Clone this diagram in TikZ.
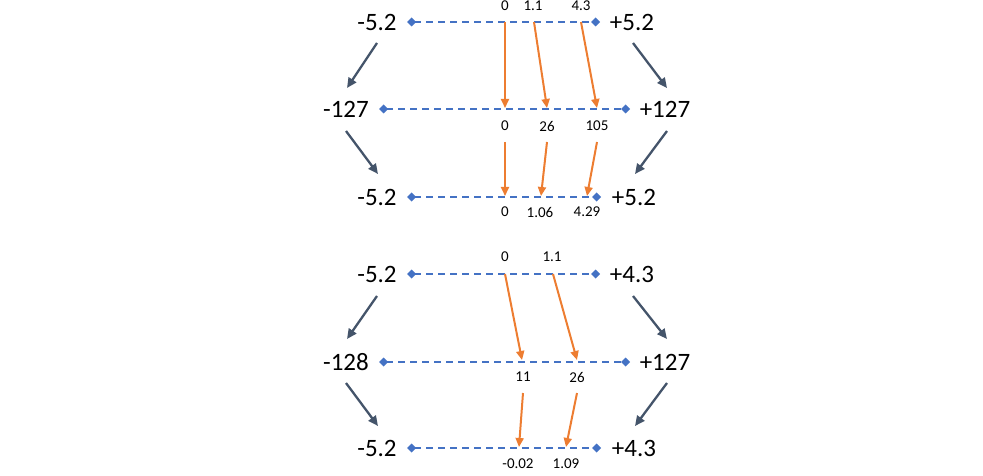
\documentclass[tikz,border=0pt]{standalone}
\usepackage{fontspec}
\setmainfont{Carlito}
\usetikzlibrary{arrows.meta}
\definecolor{axisblue}{HTML}{4472C4}
\definecolor{maporange}{HTML}{ED7D31}
\definecolor{slategray}{HTML}{44546A}
\tikzset{
  big/.style={inner sep=0pt, font=\fontsize{25}{25}\selectfont},
  small/.style={inner sep=0pt, font=\fontsize{15}{15}\selectfont},
  axisline/.style={axisblue, line width=2.2pt, dash pattern=on 7pt off 5pt, {Diamond[length=9pt,width=9pt]}-{Diamond[length=9pt,width=9pt]}},
  maparrow/.style={maporange, line width=2pt, -{Triangle[length=9pt,width=8pt]}},
  scalearrow/.style={slategray, line width=2.3pt, -{Triangle[length=10pt,width=9pt]}}
}
\begin{document}
\begin{tikzpicture}[x=1pt,y=-1pt]
\useasboundingbox (0,0) rectangle (983,476);
% ---------- top group ----------
\node[big] (t1l) at (377,22) {-5.2};
\node[big] (t1r) at (632,22) {+5.2};
\node[big] (t2l) at (346,109) {-127};
\node[big] (t2r) at (665,109) {+127};
\node[big] (t3l) at (377,197) {-5.2};
\node[big] (t3r) at (634,197) {+5.2};
\coordinate (a1l) at (407,22);  \coordinate (a1r) at (600,22);
\coordinate (a2l) at (379,109); \coordinate (a2r) at (630,109);
\coordinate (a3l) at (407,197); \coordinate (a3r) at (601,197);
\draw[axisline] (a1l) -- (a1r);
\draw[axisline] (a2l) -- (a2r);
\draw[axisline] (a3l) -- (a3r);
\node[small] (u1) at (505,6) {0};
\node[small] (u2) at (533,6) {1.1};
\node[small] (u3) at (581,6) {4.3};
\node[small] (v1) at (505,126) {0};
\node[small] (v2) at (547,126) {26};
\node[small] (v3) at (597,126) {105};
\node[small] (w1) at (505,212) {0};
\node[small] (w2) at (540,212) {1.06};
\node[small] (w3) at (587,212) {4.29};
\coordinate (p1s) at (505,22);  \coordinate (p1e) at (505,108);
\coordinate (p2s) at (534,22);  \coordinate (p2e) at (547,108);
\coordinate (p3s) at (581,22);  \coordinate (p3e) at (597,108);
\coordinate (q1s) at (505,142); \coordinate (q1e) at (505,196);
\coordinate (q2s) at (547,142); \coordinate (q2e) at (541,196);
\coordinate (q3s) at (597,142); \coordinate (q3e) at (587,196);
\draw[maparrow] (p1s) -- (p1e);
\draw[maparrow] (p2s) -- (p2e);
\draw[maparrow] (p3s) -- (p3e);
\draw[maparrow] (q1s) -- (q1e);
\draw[maparrow] (q2s) -- (q2e);
\draw[maparrow] (q3s) -- (q3e);
\coordinate (g1s) at (377,43);  \coordinate (g1e) at (347,88);
\coordinate (g2s) at (633,43);  \coordinate (g2e) at (667,88);
\coordinate (g3s) at (346,131); \coordinate (g3e) at (378,174);
\coordinate (g4s) at (667,131); \coordinate (g4e) at (635,174);
\draw[scalearrow] (g1s) -- (g1e);
\draw[scalearrow] (g2s) -- (g2e);
\draw[scalearrow] (g3s) -- (g3e);
\draw[scalearrow] (g4s) -- (g4e);
% ---------- bottom group ----------
\node[big] (b1l) at (377,274) {-5.2};
\node[big] (b1r) at (632,274) {+4.3};
\node[big] (b2l) at (346,362) {-128};
\node[big] (b2r) at (665,362) {+127};
\node[big] (b3l) at (377,448) {-5.2};
\node[big] (b3r) at (634,448) {+4.3};
\coordinate (c1l) at (407,274); \coordinate (c1r) at (600,274);
\coordinate (c2l) at (379,362); \coordinate (c2r) at (630,362);
\coordinate (c3l) at (407,448); \coordinate (c3r) at (601,448);
\draw[axisline] (c1l) -- (c1r);
\draw[axisline] (c2l) -- (c2r);
\draw[axisline] (c3l) -- (c3r);
\node[small] (x1) at (505,257) {0};
\node[small] (x2) at (552,257) {1.1};
\node[small] (y1) at (523,377) {11};
\node[small] (y2) at (577,377) {26};
\node[small] (z1) at (518,464) {-0.02};
\node[small] (z2) at (566,464) {1.09};
\coordinate (r1s) at (505,274); \coordinate (r1e) at (522,360);
\coordinate (r2s) at (553,274); \coordinate (r2e) at (577,360);
\coordinate (s1s) at (523,393); \coordinate (s1e) at (519,447);
\coordinate (s2s) at (577,393); \coordinate (s2e) at (566,447);
\draw[maparrow] (r1s) -- (r1e);
\draw[maparrow] (r2s) -- (r2e);
\draw[maparrow] (s1s) -- (s1e);
\draw[maparrow] (s2s) -- (s2e);
\coordinate (h1s) at (377,296); \coordinate (h1e) at (347,339);
\coordinate (h2s) at (633,296); \coordinate (h2e) at (667,339);
\coordinate (h3s) at (346,383); \coordinate (h3e) at (378,426);
\coordinate (h4s) at (667,383); \coordinate (h4e) at (635,426);
\draw[scalearrow] (h1s) -- (h1e);
\draw[scalearrow] (h2s) -- (h2e);
\draw[scalearrow] (h3s) -- (h3e);
\draw[scalearrow] (h4s) -- (h4e);
\end{tikzpicture}
\end{document}
